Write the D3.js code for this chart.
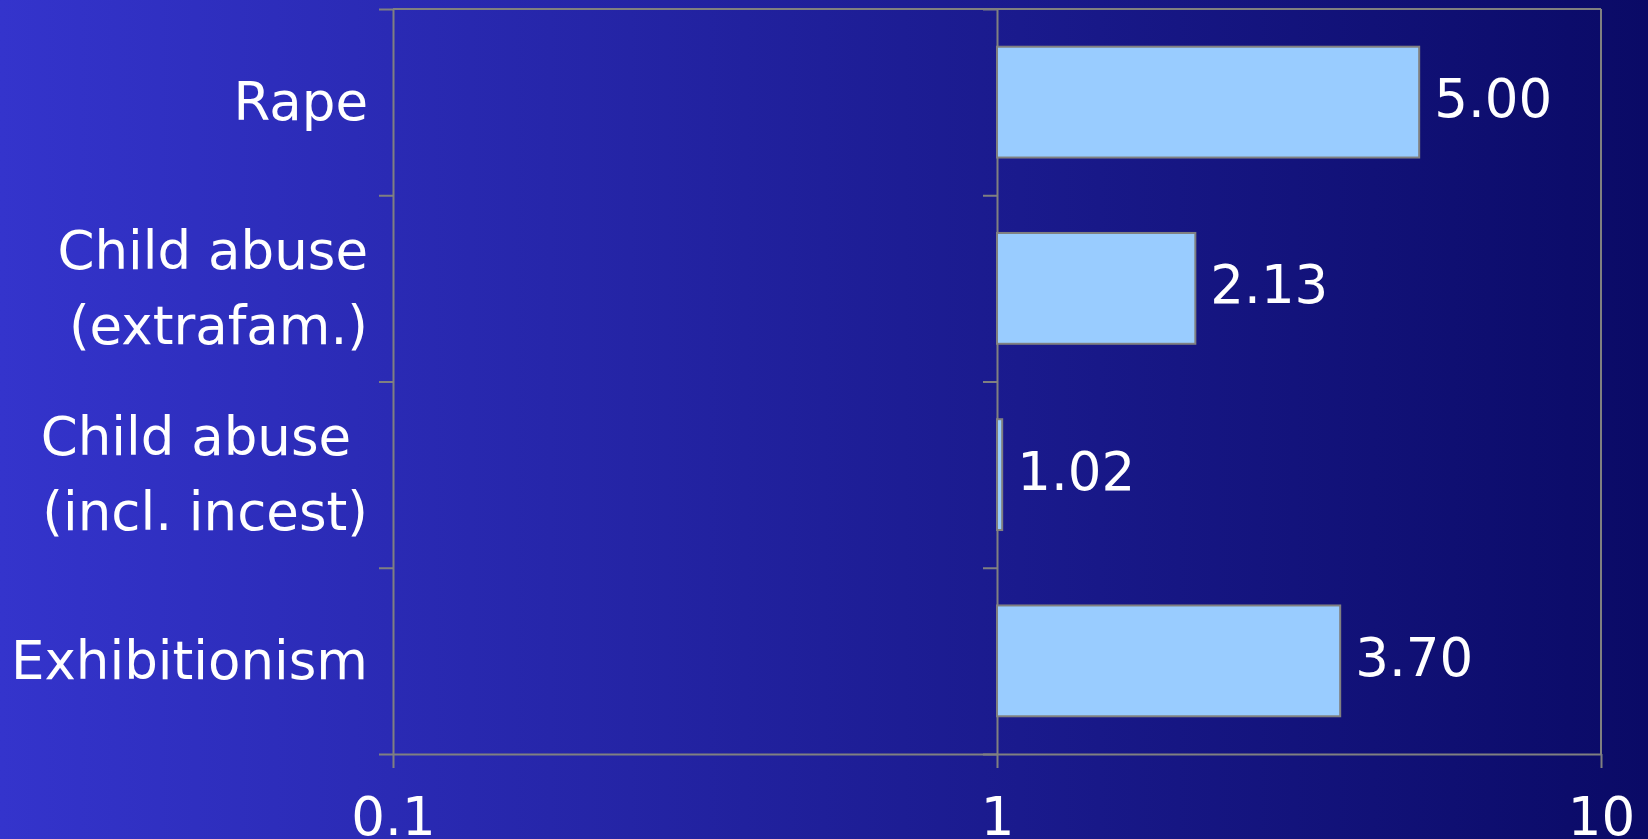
<!DOCTYPE html>
<html>
<head>
  <script src="https://cdnjs.cloudflare.com/ajax/libs/d3/7.0.0/d3.min.js"></script>
  <style>
    body { margin: 0; overflow: hidden; }
    text { font-family: "DejaVu Sans", Verdana, sans-serif; fill: #ffffff; white-space: pre; }
  </style>
</head>
<body>
  <div id="chart"></div>

  <script>
    // categories, each as lines of text (trailing space kept on purpose)
    var categories = ["Rape", "Child abuse (extrafam.)", "Child abuse (incl. incest)", "Exhibitionism"];
    var categoryLines = [
      ["Rape"],
      ["Child abuse", "(extrafam.)"],
      ["Child abuse ", "(incl. incest)"],
      ["Exhibitionism"]
    ];
    var values = [5.00, 2.13, 1.02, 3.70];
    var valueLabels = ["5.00", "2.13", "1.02", "3.70"];
    var xTicks = [0.1, 1, 10];
    var xTickLabels = ["0.1", "1", "10"];

    var W = 1648, H = 839;
    var margin = { top: 9, right: 47, bottom: 85, left: 393 };
    var width = W - margin.left - margin.right;
    var height = H - margin.top - margin.bottom;
    var fontSize = 53;
    var lineColor = "#808080";

    var svg = d3.select("#chart")
      .append("svg")
      .attr("width", W)
      .attr("height", H);

    // background gradient
    var grad = svg.append("defs").append("linearGradient")
      .attr("id", "bg")
      .attr("x1", "0%").attr("x2", "100%")
      .attr("y1", "0%").attr("y2", "0%");
    grad.append("stop").attr("offset", "0%").attr("stop-color", "#3434CC");
    grad.append("stop").attr("offset", "100%").attr("stop-color", "#0A0A66");

    svg.append("rect")
      .attr("width", W)
      .attr("height", H)
      .attr("fill", "url(#bg)");

    var g = svg.append("g")
      .attr("transform", "translate(" + margin.left + "," + margin.top + ")");

    var x = d3.scaleLog().domain([0.1, 10]).range([0, width]);
    var y = d3.scaleBand().domain(categories).range([0, height])
      .paddingInner(0.405).paddingOuter(0.2025);
    var yEdges = d3.scaleLinear().domain([0, categories.length]).range([0, height]);
    var edges = d3.range(categories.length + 1);

    // plot border: top and right
    g.append("line")
      .attr("x1", 0).attr("x2", width)
      .attr("y1", 0).attr("y2", 0)
      .attr("stroke", lineColor).attr("stroke-width", 2);
    g.append("line")
      .attr("x1", width).attr("x2", width)
      .attr("y1", 0).attr("y2", height)
      .attr("stroke", lineColor).attr("stroke-width", 2);

    // category tick lines on left border and on the x=1 crossing
    [x(0.1), x(1)].forEach(function(xpos) {
      var ax = g.append("g")
        .attr("transform", "translate(" + xpos + ",0)")
        .call(d3.axisLeft(yEdges).tickValues(edges).tickSize(14).tickSizeOuter(0).tickFormat(""));
      ax.select(".domain").attr("stroke", lineColor).attr("stroke-width", 2);
      ax.selectAll(".tick line").attr("stroke", lineColor).attr("stroke-width", 2);
    });

    // bars start at 1 on the log axis
    g.selectAll("rect.bar")
      .data(values)
      .enter().append("rect")
      .attr("class", "bar")
      .attr("x", x(1))
      .attr("y", function(d, i) { return y(categories[i]); })
      .attr("width", function(d) { return x(d) - x(1); })
      .attr("height", y.bandwidth())
      .attr("fill", "#99CCFF")
      .attr("stroke", lineColor)
      .attr("stroke-width", 2);

    // value labels
    g.selectAll("text.val")
      .data(values)
      .enter().append("text")
      .attr("class", "val")
      .attr("x", function(d) { return x(d) + 15; })
      .attr("y", function(d, i) { return y(categories[i]) + y.bandwidth() / 2 + 15; })
      .style("font-size", fontSize + "px")
      .text(function(d, i) { return valueLabels[i]; });

    // category labels
    categoryLines.forEach(function(lines, i) {
      var cy = yEdges(i + 0.5);
      var first = cy + 18 - (lines.length - 1) * 37.5;
      var t = g.append("text")
        .attr("text-anchor", "end")
        .style("font-size", fontSize + "px");
      lines.forEach(function(line, j) {
        t.append("tspan")
          .attr("x", -25)
          .attr("y", first + j * 75)
          .text(line);
      });
    });

    // value axis (log)
    var xAxis = g.append("g")
      .attr("transform", "translate(0," + height + ")")
      .call(d3.axisBottom(x).tickValues(xTicks).tickSize(14).tickSizeOuter(0)
        .tickFormat(function(d, i) { return xTickLabels[i]; }));
    xAxis.select(".domain").attr("stroke", lineColor).attr("stroke-width", 2);
    xAxis.selectAll(".tick line").attr("stroke", lineColor).attr("stroke-width", 2);
    xAxis.selectAll(".tick text")
      .attr("y", 81)
      .attr("dy", 0)
      .attr("fill", "#ffffff")
      .style("font-size", fontSize + "px")
      .style("font-family", "'DejaVu Sans', Verdana, sans-serif");
  </script>
</body>
</html>
